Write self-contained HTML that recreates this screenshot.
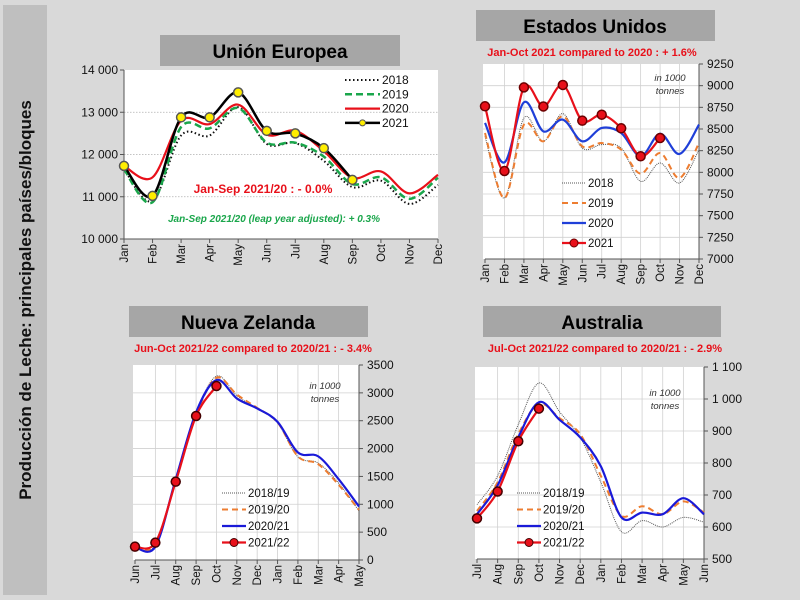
<!DOCTYPE html>
<html><head><meta charset="utf-8"><style>
body{margin:0;background:#d9d9d9;}
svg{display:block;font-family:"Liberation Sans",sans-serif;}
</style></head><body>
<svg id="s" width="800" height="600" viewBox="0 0 800 600">
<rect x="0" y="0" width="800" height="600" fill="#d9d9d9"/>
<rect x="3" y="5" width="44" height="590" fill="#bfbfbf"/>
<text transform="translate(31,300) rotate(-90)" text-anchor="middle" font-size="17" font-weight="bold" fill="#111">Producción de Leche: principales países/bloques</text>

<rect x="160" y="35" width="240" height="31" fill="#a6a6a6"/>
<text x="280" y="58" text-anchor="middle" font-size="19" font-weight="bold">Unión Europea</text>
<rect x="476" y="10" width="239" height="31" fill="#a6a6a6"/>
<text x="595" y="33" text-anchor="middle" font-size="19" font-weight="bold">Estados Unidos</text>
<text x="592" y="56" text-anchor="middle" font-size="11" font-weight="bold" fill="#e8101a">Jan-Oct 2021 compared to 2020 : + 1.6%</text>
<rect x="129" y="306" width="239" height="31" fill="#a6a6a6"/>
<text x="248" y="329" text-anchor="middle" font-size="19" font-weight="bold">Nueva Zelanda</text>
<text x="253" y="352" text-anchor="middle" font-size="11" font-weight="bold" fill="#e8101a">Jun-Oct 2021/22 compared to 2020/21 : - 3.4%</text>
<rect x="483" y="306" width="238" height="31" fill="#a6a6a6"/>
<text x="602" y="329" text-anchor="middle" font-size="19" font-weight="bold">Australia</text>
<text x="605" y="352" text-anchor="middle" font-size="11" font-weight="bold" fill="#e8101a">Jul-Oct 2021/22 compared to 2020/21 : - 2.9%</text>
</svg>
<script>
const NS="http://www.w3.org/2000/svg";
const svg=document.getElementById('s');
// ---- data ----
const calMonths=["Jan","Feb","Mar","Apr","May","Jun","Jul","Aug","Sep","Oct","Nov","Dec"];
const nzMonths=["Jun","Jul","Aug","Sep","Oct","Nov","Dec","Jan","Feb","Mar","Apr","May"];
const auMonths=["Jul","Aug","Sep","Oct","Nov","Dec","Jan","Feb","Mar","Apr","May","Jun"];
const eu2018=[11650,10900,12450,12450,13120,12250,12270,11850,11230,11380,10830,11280];
const eu2019=[11650,10870,12650,12620,13100,12280,12280,11950,11300,11460,10950,11450];
const eu2020=[11730,11460,12800,12720,13180,12470,12560,12080,11450,11600,11080,11520];
const eu2021=[11730,11020,12880,12880,13470,12560,12500,12150,11400];
const euTicks=[10000,11000,12000,13000,14000];
const euTickLabels=["10 000","11 000","12 000","13 000","14 000"];
const us2018=[8415,7704,8627,8358,8677,8280,8320,8280,7896,8108,7877,8262];
const us2019=[8454,7704,8550,8358,8646,8300,8338,8262,7985,8223,7935,8338];
const us2020=[8570,8115,8808,8473,8608,8358,8512,8454,8185,8446,8212,8550];
const us2021=[8762,8015,8980,8760,9008,8596,8665,8508,8185,8396];
const usTicks=[7000,7250,7500,7750,8000,8250,8500,8750,9000,9250];
const usTickLabels=["7000","7250","7500","7750","8000","8250","8500","8750","9000","9250"];
const nz1819=[210,270,1400,2620,3300,2950,2720,2460,1850,1740,1380,880];
const nz1920=[220,280,1420,2600,3270,2970,2730,2470,1860,1720,1350,900];
const nz2021=[230,240,1450,2650,3230,2900,2720,2480,1930,1860,1450,960];
const nz2122=[239,311,1406,2585,3123];
const nzTicks=[0,500,1000,1500,2000,2500,3000,3500];
const nzTickLabels=["0","500","1000","1500","2000","2500","3000","3500"];
const au1819=[670,760,920,1050,960,880,740,585,620,600,630,615];
const au1920=[650,740,890,985,940,890,760,635,665,640,680,645];
const au2021=[640,730,880,990,935,880,790,630,645,640,690,640];
const au2122=[627,711,868,970];
const auTicks=[500,600,700,800,900,1000,1100];
const auTickLabels=["500","600","700","800","900","1 000","1 100"];

function el(tag,attrs,parent){const e=document.createElementNS(NS,tag);for(const k in attrs)e.setAttribute(k,attrs[k]);(parent||svg).appendChild(e);return e;}
function smooth(p){let d="M"+p[0][0]+","+p[0][1];for(let i=0;i<p.length-1;i++){const p0=p[i-1]||p[i],p1=p[i],p2=p[i+1],p3=p[i+2]||p2;const c1x=p1[0]+(p2[0]-p0[0])/6,c1y=p1[1]+(p2[1]-p0[1])/6,c2x=p2[0]-(p3[0]-p1[0])/6,c2y=p2[1]-(p3[1]-p1[1])/6;d+=" C"+c1x+","+c1y+" "+c2x+","+c2y+" "+p2[0]+","+p2[1];}return d;}

function chart(c){
  const g=el('g',{});
  
  
  const xs=i=>c.x0+(c.x1-c.x0)*i/(c.cats.length-1);
  const ys=v=>c.y1-(v-c.vmin)/(c.vmax-c.vmin)*(c.y1-c.y0);
  el('rect',{x:c.px,y:c.y0,width:c.x1-c.px,height:c.y1-c.y0,fill:'#fff'},g);
  c.ticks.forEach((t,i)=>{
    const y=ys(t);
    if(t>c.vmin&&t<c.vmax){const l=el('line',{x1:c.px,x2:c.x1,y1:y,y2:y,stroke:c.vgrid?'#d0d0d0':'#b0b0b0','stroke-width':0.8,'stroke-dasharray':c.vgrid?'':'1.5,1.5'},g);}
    const tx=el('text',{x:c.side==='left'?c.x0-6:c.x1+8,y:y+4,'text-anchor':c.side==='left'?'end':'start','font-size':12,fill:'#111'},g);
    tx.textContent=c.tickLabels[i];
    
    
    el('line',{x1:c.side==='left'?c.x0-4:c.x1,x2:c.side==='left'?c.x0:c.x1+4,y1:y,y2:y,stroke:'#555'},g);
  });
  c.cats.forEach((m,i)=>{
    const x=xs(i);
    if(c.vgrid&&i>0&&i<c.cats.length-1){const l=el('line',{x1:x,x2:x,y1:c.y0,y2:c.y1,stroke:'#d0d0d0','stroke-width':0.8},g);}
    el('line',{x1:x,x2:x,y1:c.y1,y2:c.y1+4,stroke:'#555'},g);
    const t=el('text',{transform:`translate(${x+4},${c.y1+5}) rotate(-90)`,'text-anchor':'end','font-size':11.5,fill:'#111'},g);
    t.textContent=m;
    
    
  });
  el('line',{x1:c.x0,x2:c.x1,y1:c.y1,y2:c.y1,stroke:'#555'},g);
  const ax=c.side==='left'?c.x0:c.x1;
  el('line',{x1:ax,x2:ax,y1:c.y0,y2:c.y1,stroke:'#555'},g);
  c.series.forEach(s=>{
    const pts=s.vals.map((v,i)=>[xs(i),ys(v)]);
    const p=el('path',{d:smooth(pts),fill:'none',stroke:s.color,'stroke-width':s.w,'stroke-dasharray':s.dash||''},g);
    
    
    if(s.marker){pts.forEach(q=>{
      const m=el('circle',{cx:q[0],cy:q[1],r:4.5,fill:s.marker,stroke:s.mstroke,'stroke-width':1.5},g);
      
      
    });}
  });
  c.series.forEach((s,i)=>{
    const y=c.ly+i*c.lh;
    el('line',{x1:c.lx,x2:c.lx+c.lw,y1:y-4,y2:y-4,stroke:s.color,'stroke-width':s.w,'stroke-dasharray':s.dash||''},g);
    if(s.marker)el('circle',{cx:c.lx+c.lw/2,cy:y-4,r:s.mr||4,fill:s.marker,stroke:s.mstroke,'stroke-width':1},g);
    const t=el('text',{x:c.lx+c.lw+2,y:y,'font-size':c.lfs,fill:'#111'},g);
    t.textContent=s.label;
    
    
  });
  if(c.unit){[["in 1000",0],["tonnes",13]].forEach(a=>{const t=el('text',{x:c.unit[0],y:c.unit[1]+a[1],'text-anchor':'middle','font-size':9.5,'font-style':'italic',fill:'#333'},g);t.textContent=a[0];});}
  return g;
}
chart({name:'eu-chart',cats:calMonths,x0:124,x1:438,px:124,y0:70,y1:239,vmin:10000,vmax:14000,ticks:euTicks,tickLabels:euTickLabels,side:'left',vgrid:false,
 lx:345,ly:84,lh:14.3,lw:35,lfs:12,
 series:[{label:'2018',vals:eu2018,color:'#111',w:2,dash:'1.5,2.5'},{label:'2019',vals:eu2019,color:'#1aa64b',w:2.5,dash:'7,4'},{label:'2020',vals:eu2020,color:'#e8101a',w:2.2},{label:'2021',vals:eu2021,color:'#000',w:2.5,marker:'#ffee00',mstroke:'#555',mr:3}]});
chart({name:'us-chart',cats:calMonths,x0:485,x1:699,px:483,y0:64,y1:259,vmin:7000,vmax:9250,ticks:usTicks,tickLabels:usTickLabels,side:'right',vgrid:true,
 lx:562,ly:187,lh:20,lw:24,lfs:11.5,unit:[670,81],
 series:[{label:'2018',vals:us2018,color:'#555',w:1,dash:'1,1'},{label:'2019',vals:us2019,color:'#ed7d31',w:2,dash:'6,4'},{label:'2020',vals:us2020,color:'#1f3fd8',w:2.2},{label:'2021',vals:us2021,color:'#e8101a',w:2.2,marker:'#e8101a',mstroke:'#6b0000'}]});
chart({name:'nz-chart',cats:nzMonths,x0:135,x1:359,px:133,y0:365,y1:560,vmin:0,vmax:3500,ticks:nzTicks,tickLabels:nzTickLabels,side:'right',vgrid:true,
 lx:222,ly:497,lh:16.5,lw:24,lfs:11.5,unit:[325,389],
 series:[{label:'2018/19',vals:nz1819,color:'#555',w:1,dash:'1,1'},{label:'2019/20',vals:nz1920,color:'#ed7d31',w:2,dash:'6,4'},{label:'2020/21',vals:nz2021,color:'#1a1ad8',w:2.2},{label:'2021/22',vals:nz2122,color:'#e8101a',w:2.2,marker:'#e8101a',mstroke:'#400'}]});
chart({name:'au-chart',cats:auMonths,x0:477,x1:704,px:475,y0:367,y1:559,vmin:500,vmax:1100,ticks:auTicks,tickLabels:auTickLabels,side:'right',vgrid:true,
 lx:517,ly:497,lh:16.5,lw:24,lfs:11.5,unit:[665,396],
 series:[{label:'2018/19',vals:au1819,color:'#555',w:1,dash:'1,1'},{label:'2019/20',vals:au1920,color:'#ed7d31',w:2,dash:'6,4'},{label:'2020/21',vals:au2021,color:'#1a1ad8',w:2.2},{label:'2021/22',vals:au2122,color:'#e8101a',w:2.2,marker:'#e8101a',mstroke:'#400'}]});
const a1=el('text',{x:263,y:193,'text-anchor':'middle','font-size':12,'font-weight':'bold',fill:'#e8101a'});
a1.textContent="Jan-Sep 2021/20 : - 0.0%";


const a2=el('text',{x:274,y:222,'text-anchor':'middle','font-size':10,'font-weight':'bold','font-style':'italic',fill:'#1aa64b'});
a2.textContent="Jan-Sep 2021/20 (leap year adjusted): + 0.3%";


</script>
</body></html>
